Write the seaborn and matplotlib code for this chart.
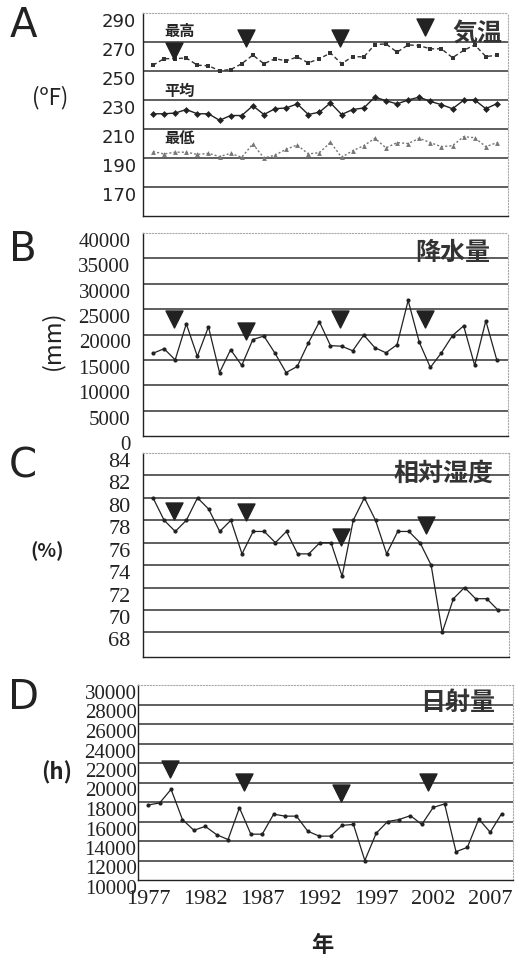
import numpy as np
import pandas as pd
import matplotlib
matplotlib.use('Agg')
import matplotlib.pyplot as plt
import matplotlib.transforms as mtransforms
from matplotlib.font_manager import FontProperties
import seaborn as sns

years = list(range(1977, 2009))

# A: temperature (F)
temp_max = [254, 258.5, 258.5, 259, 254, 253.6, 250.2, 251, 255, 261, 255, 258.5, 257, 259.7, 255.6, 258.5,
            262.4, 255, 260, 259.7, 268.2, 268.7, 263, 268, 267.5, 265.3, 265.3, 259.2, 264.2, 268, 260, 260.8]
temp_mean = [220.5, 220.5, 221, 223.4, 220.5, 220.5, 216, 219.3, 219.3, 226, 220, 224, 224.5, 227.3, 220, 221.6,
             228, 220, 223.4, 224.5, 232, 229.5, 227.3, 230, 232, 229, 226.8, 224, 229.8, 230, 224, 227.5]
temp_min = [194.4, 192.8, 194, 194, 192.5, 193.2, 191, 193.2, 190.5, 199.7, 190, 192, 196, 199, 192.8, 193.7,
            200.8, 190.5, 195, 198.5, 203.6, 197, 200.6, 200, 203.6, 200.6, 197.8, 198.5, 204.7, 204, 197.8, 200.6]

# B: precipitation (mm)
precip = [16300, 17200, 15000, 22100, 15700, 21500, 12500, 17000, 13900, 19000, 19700, 16300, 12500, 13700,
          18300, 22500, 17800, 17700, 16800, 19900, 17400, 16400, 18000, 26700, 18500, 13500, 16400, 19800,
          21700, 13900, 22700, 14900]

# C: relative humidity (%)
humidity = [80, 78, 77, 78, 80, 79, 77, 78, 75, 77, 77, 76, 77, 75, 75, 76,
            76, 73, 78, 80, 78, 75, 77, 77, 76, 74, 68, 71, 72, 71, 71, 70]

# D: sunshine (h)
sunshine = [17700, 17900, 19300, 16200, 15100, 15500, 14650, 14150, 17400, 14700, 14700, 16750, 16550, 16550,
            15000, 14500, 14500, 15600, 15700, 12000, 14800, 16000, 16200, 16600, 15700, 17450, 17800, 12900,
            13350, 16250, 14900, 16800]

# event markers (triangles)
event_x = [1978.9, 1985.4, 1993.9, 2001.5]
event_y_a = [264, 272.7, 272.7, 280.3]
event_y_b = [23000, 20700, 23000, 23000]
event_y_c = [78.8, 78.7, 76.5, 77.6]
event_y_d = [21400, 20100, 18900, 20100]

sns.set_theme(style='white')
plt.rcParams['font.family'] = ['Noto Sans CJK JP', 'DejaVu Sans']

W, H = 517, 957
fig = plt.figure(figsize=(W / 100, H / 100), dpi=100)


def box(l, r, t, b):
    return [l / W, 1 - b / H, (r - l) / W, (b - t) / H]


def style_axes(ax, ylim, yticks, grid, ypad, xlabels=False):
    ax.set_xlim(1976.1, 2009.0)
    ax.set_ylim(*ylim)
    for y in grid:
        ax.axhline(y, color='#333', lw=1.1, zorder=0)
    ax.set_yticks(yticks)
    ax.set_yticklabels([str(t) for t in yticks], color='#222')
    ax.tick_params(axis='y', length=0, pad=ypad)
    ax.set_xticks(list(range(1977, 2008, 5)))
    ax.set_xticks([1981.1 + 5 * k for k in range(6)], minor=True)
    ax.tick_params(axis='x', which='major', length=0, pad=7)
    ax.tick_params(axis='x', which='minor', length=3, direction='in', color='#333')
    if xlabels:
        ax.set_xticklabels([str(y) for y in range(1977, 2008, 5)], color='#222')
    else:
        ax.set_xticklabels([])
    for s in ['left', 'bottom']:
        ax.spines[s].set_color('#222')
        ax.spines[s].set_linewidth(1.0)
    for s in ['top', 'right']:
        ax.spines[s].set_color('#aaa')
        ax.spines[s].set_linewidth(0.8)
        ax.spines[s].set_linestyle(':')
    ax.set_xlabel('')
    ax.set_ylabel('')


def events(ax, ys):
    sns.scatterplot(x=event_x, y=ys, marker='v', s=150, color='#222', edgecolor='#222', ax=ax, zorder=5)


# ---- A ----
axA = fig.add_axes(box(143, 508, 13, 216))
sns.lineplot(x=years, y=temp_max, ax=axA, color='#333', lw=1.0, linestyle=(0, (3, 2)),
             marker='s', markersize=3, markeredgewidth=0)
sns.lineplot(x=years, y=temp_mean, ax=axA, color='#222', lw=1.0, marker='D', markersize=3.5, markeredgewidth=0)
sns.lineplot(x=years, y=temp_min, ax=axA, color='#777', lw=1.0, linestyle=(0, (1.5, 1.5)),
             marker='^', markersize=3.5, markeredgewidth=0)
events(axA, event_y_a)
style_axes(axA, (150, 290), [290, 270, 250, 230, 210, 190, 170], [270, 250, 230, 210, 190, 170], 5)
axA.text(0.10, 0.911, '最高', transform=axA.transAxes, ha='center', va='center', fontsize=11, fontweight='bold')
axA.text(0.10, 0.616, '平均', transform=axA.transAxes, ha='center', va='center', fontsize=11, fontweight='bold')
axA.text(0.10, 0.384, '最低', transform=axA.transAxes, ha='center', va='center', fontsize=11, fontweight='bold')
axA.text(0.915, 0.90, '気温', transform=axA.transAxes, ha='center', va='center', fontsize=18, fontweight='bold', color='#333')

# ---- B ----
axB = fig.add_axes(box(143, 508, 233, 436))
sns.lineplot(x=years, y=precip, ax=axB, color='#222', lw=0.9, marker='o', markersize=3, markeredgewidth=0)
events(axB, event_y_b)
style_axes(axB, (0, 40000), list(range(0, 40001, 5000)), list(range(5000, 35001, 5000)), 9)
axB.text(0.849, 0.90, '降水量', transform=axB.transAxes, ha='center', va='center', fontsize=18, fontweight='bold', color='#333')

# ---- C ----
axC = fig.add_axes(box(143, 509, 453, 657))
sns.lineplot(x=years, y=humidity, ax=axC, color='#222', lw=0.9, marker='o', markersize=3, markeredgewidth=0)
events(axC, event_y_c)
style_axes(axC, (65.8, 84), list(range(68, 85, 2)), list(range(68, 83, 2)), 9)
axC.text(0.822, 0.90, '相対湿度', transform=axC.transAxes, ha='center', va='center', fontsize=18, fontweight='bold', color='#333')

# ---- D ----
axD = fig.add_axes(box(138, 513, 685, 880))
sns.lineplot(x=years, y=sunshine, ax=axD, color='#222', lw=0.9, marker='o', markersize=3, markeredgewidth=0)
events(axD, event_y_d)
style_axes(axD, (10000, 30000), list(range(10000, 30001, 2000)), list(range(12000, 28001, 2000)), 1,
           xlabels=True)
axD.text(0.853, 0.908, '日射量', transform=axD.transAxes, ha='center', va='center', fontsize=18, fontweight='bold', color='#333')

# panel letters and units
for letter, y in [('A', 26), ('B', 250), ('C', 467), ('D', 698)]:
    fig.text(23 / W, 1 - y / H, letter, ha='center', va='center', fontsize=29, color='#222', family='DejaVu Sans')

fig.text(50 / W, 1 - 98 / H, '(ºF)', ha='center', va='center', fontsize=16, color='#222')
fig.text(52 / W, 1 - 340 / H, '(mm)', ha='center', va='center', fontsize=17, rotation=90, color='#222')
fig.text(47 / W, 1 - 551 / H, '(%)', ha='center', va='center', fontsize=14, fontweight='bold', color='#222')
fig.text(57 / W, 1 - 773 / H, '(h)', ha='center', va='center', fontsize=16, fontweight='bold', color='#222')
fig.text(322 / W, 1 - 945 / H, '年', ha='center', va='center', fontsize=16, fontweight='bold', color='#222')

# fonts for tick labels, set after the ticks exist
fig.canvas.draw()
off = mtransforms.ScaledTranslation(0, -7 / 100, fig.dpi_scale_trans)
for ax, fam, size in [(axA, 'DejaVu Sans', 13), (axB, 'Liberation Serif', 15),
                      (axC, 'Liberation Serif', 16), (axD, 'Liberation Serif', 15)]:
    for tick in ax.yaxis.get_major_ticks():
        tick.label1.set_fontproperties(FontProperties(family=fam, size=size))
        tick.label1.set_transform(tick.label1.get_transform() + off)
for tick in axD.xaxis.get_major_ticks():
    tick.label1.set_fontproperties(FontProperties(family='Liberation Serif', size=16))

fig.savefig('out.png', dpi=100, facecolor='white')
